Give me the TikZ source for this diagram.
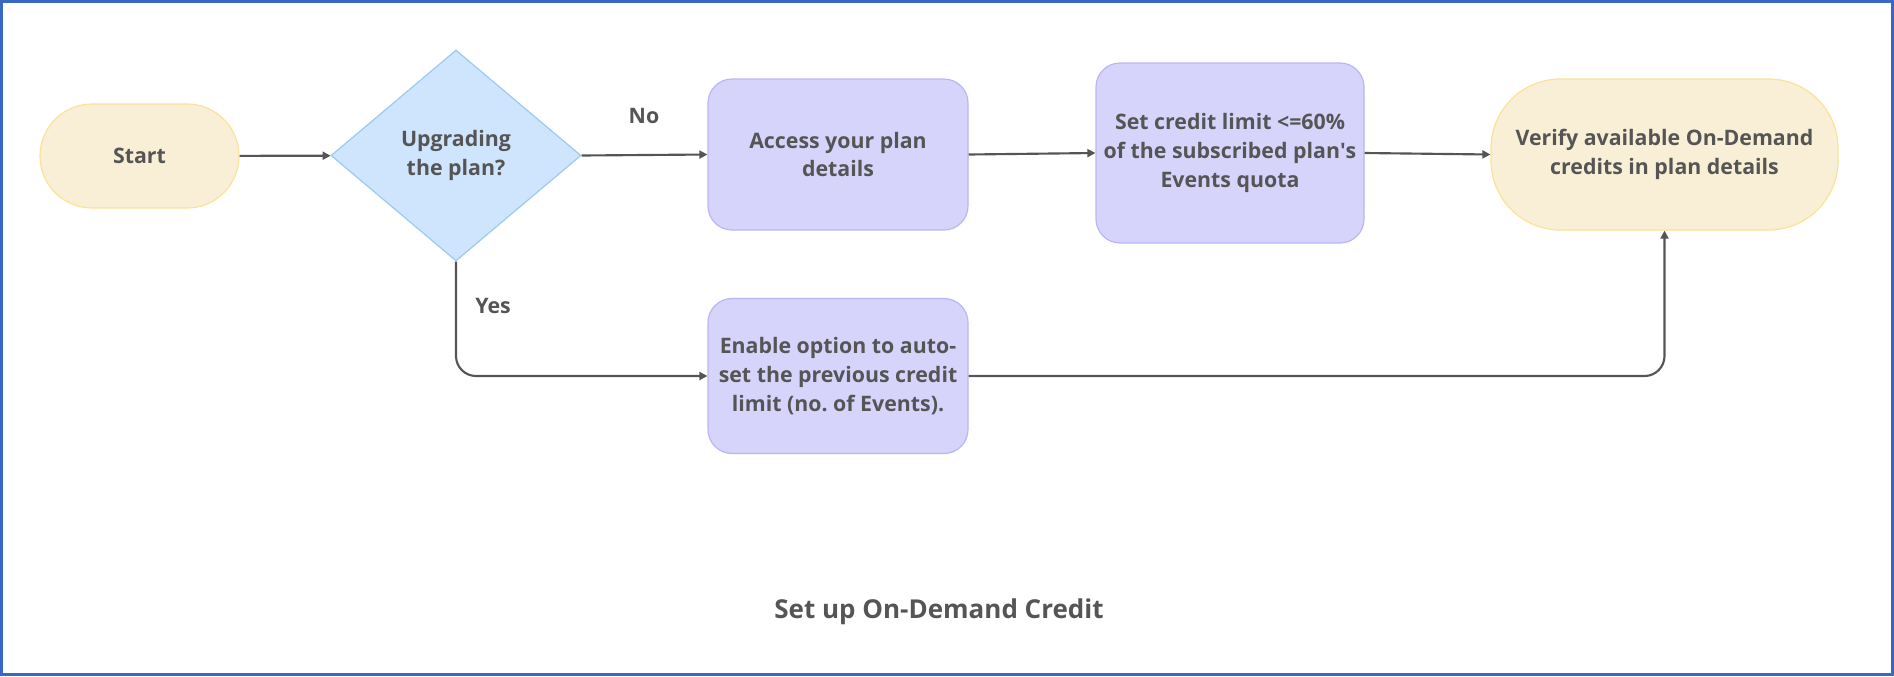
\documentclass[tikz,border=0pt]{standalone}
\usepackage{fontspec}
\setmainfont{Open Sans}
\usetikzlibrary{shapes.geometric,arrows.meta}
\frenchspacing
\definecolor{txt}{HTML}{555555}
\definecolor{framec}{HTML}{3A67C5}
\definecolor{creamfill}{HTML}{F8EFD6}
\definecolor{creamline}{HTML}{FBE29A}
\definecolor{purfill}{HTML}{D7D4FC}
\definecolor{purline}{HTML}{BBB5F5}
\definecolor{bluefill}{HTML}{CFE5FD}
\definecolor{blueline}{HTML}{9CC9F3}
\tikzset{
  basefont/.style={font=\bfseries\fontsize{16}{21.6}\selectfont, text=txt},
  terminal/.style={basefont, draw=creamline, fill=creamfill, line width=0.9pt, align=center, inner sep=0pt},
  procbox/.style={basefont, draw=purline, fill=purfill, line width=0.9pt, rounded corners=18pt, align=center, inner sep=0pt},
  decision/.style={basefont, shape=diamond, draw=blueline, fill=bluefill, line width=0.9pt, align=center, inner sep=0pt},
  arr/.style={draw=txt, line width=1.6pt, -{Triangle[length=6pt,width=6pt]}},
  lbl/.style={basefont},
  frame/.style={draw=framec, line width=2pt}
}
\begin{document}
\begin{tikzpicture}[x=0.75pt,y=-0.75pt]
\useasboundingbox (0,0) rectangle (1894,676);
\draw[frame] (1.5,1.5) rectangle (1892.5,674.5);

\node[terminal, rounded corners=39pt, minimum width=149.25pt, minimum height=78pt] (start) at (139.5,156) {Start};
\node[decision, minimum width=187.5pt, minimum height=158.25pt] (dia) at (456,155.5) {Upgrading\\the plan?};
\node[procbox, minimum width=195pt, minimum height=113.25pt] (access) at (838,154.5) {Access your plan\\details};
\node[procbox, minimum width=201pt, minimum height=135pt] (setc) at (1230,153) {Set credit limit <=60\%\\of the subscribed plan\textquotesingle s\\Events quota};
\node[terminal, rounded corners=52pt, minimum width=260.25pt, minimum height=113.25pt] (verify) at (1664.5,154.5) {Verify available On-Demand\\credits in plan details};
\node[procbox, minimum width=195pt, minimum height=116.25pt] (enable) at (838,376) {Enable option to auto-\\set the previous credit\\limit (no. of Events).};

\node[lbl] (nolbl) at (644,116) {No};
\node[lbl] (yeslbl) at (493,306) {Yes};
\node[basefont, font=\bfseries\fontsize{19.5}{24}\selectfont] (title) at (939,612) {Set up On-Demand Credit};

\draw[arr] (start) -- (dia);
\draw[arr] (dia.east) -- (access.west);
\draw[arr] (access.east) -- (setc.west);
\draw[arr] (setc.east) -- (verify.west);
\draw[arr, rounded corners=15pt] (dia.south) |- (enable.west);
\draw[arr, rounded corners=15pt] (enable.east) -| (verify.south);
\end{tikzpicture}
\end{document}
